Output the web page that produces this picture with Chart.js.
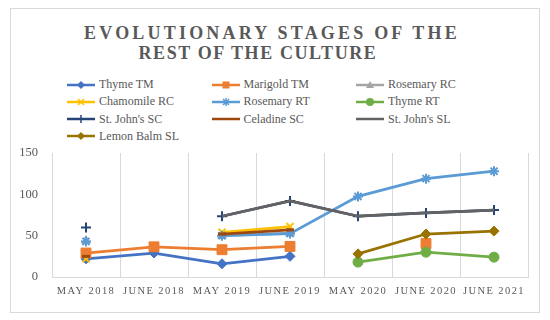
<!DOCTYPE html>
<html>
<head>
<meta charset="utf-8">
<script src="https://cdn.jsdelivr.net/npm/chart.js@4/dist/chart.umd.min.js"></script>
<style>
  html, body { margin: 0; padding: 0; background: #fff; }
  #wrap { position: relative; width: 550px; height: 320px; overflow: hidden; font-family: "Liberation Serif", "DejaVu Serif", serif; color: #595959; }
  #frame { position: absolute; left: 10px; top: 8px; width: 530px; height: 305px; border: 1px solid #d9d9d9; box-sizing: border-box; }
  .tline { position: absolute; width: 550px; text-align: center; font-size: 18px; font-weight: bold; line-height: 20px; color: #595959; white-space: nowrap; }
  #legend { position: absolute; left: 67px; top: 76px; }
  .li { position: absolute; height: 17px; display: flex; align-items: center; font-size: 12px; white-space: nowrap; }
  .li svg { margin-right: 2px; }
  canvas { position: absolute; left: 0; top: 0; }
</style>
</head>
<body>
<div id="wrap">
  <div id="frame"></div>
  <div class="tline" id="t1" style="left:-3px; top:23px; letter-spacing:3.2px;">EVOLUTIONARY STAGES OF THE</div>
  <div class="tline" id="t2" style="left:-17px; top:43px; letter-spacing:1.6px;">REST OF THE CULTURE</div>
  <div id="legend"></div>
  <canvas id="c" width="550" height="320"></canvas>
</div>
<script>
const categories = ['May 2018', 'June 2018', 'May 2019', 'June 2019', 'May 2020', 'June 2020', 'June 2021'];
const yTicks = [0, 50, 100, 150];

const thymeTM     = [22, 29, 16, 25, null, null, null];
const marigoldTM  = [29, 36.5, 33, 37, null, 40.5, null];
const rosemaryRC  = [44, null, 50, 53, null, null, null];
const chamomileRC = [22, null, 54, 61, null, null, null];
const rosemaryRT  = [43, null, 50, 52.5, 97.5, 119, 128];
const thymeRT     = [null, null, null, null, 18, 30, 24];
const stJohnsSC   = [60, null, 73.5, 92, 73.5, 77.5, 81];
const celadineSC  = [25, null, 52, 57, null, null, null];
const stJohnsSL   = [null, null, 73.5, 92, 73.5, 77.5, 81];
const lemonBalmSL = [null, null, null, null, 28, 52, 55.5];

const seriesNames = ['Thyme TM', 'Marigold TM', 'Rosemary RC', 'Chamomile RC', 'Rosemary RT', 'Thyme RT', "St. John's SC", 'Celadine SC', "St. John's SL", 'Lemon Balm SL'];
const seriesData = [thymeTM, marigoldTM, rosemaryRC, chamomileRC, rosemaryRT, thymeRT, stJohnsSC, celadineSC, stJohnsSL, lemonBalmSL];
const colors = ['#4472C4', '#ED7D31', '#A5A5A5', '#FFC000', '#5B9BD5', '#70AD47', '#264478', '#9E480E', '#636363', '#997300'];
const styles = [
  { ps: 'rectRot', r: 5, bw: 1 },
  { ps: 'rect', r: 7, bw: 1 },
  { ps: 'triangle', r: 5, bw: 1 },
  { ps: 'crossRot', r: 5, bw: 2 },
  { ps: 'star', r: 5, bw: 2 },
  { ps: 'circle', r: 5, bw: 1 },
  { ps: 'cross', r: 5, bw: 2 },
  { ps: 'line', r: 4, bw: 3 },
  { ps: false, r: 0, bw: 0 },
  { ps: 'rectRot', r: 5, bw: 1 }
];

const N = seriesNames.length;
const datasets = seriesNames.map((name, i) => ({
  label: name,
  data: seriesData[i],
  borderColor: colors[i],
  backgroundColor: colors[i],
  borderWidth: 2.75,
  pointStyle: styles[i].ps,
  pointRadius: styles[i].r,
  pointHoverRadius: styles[i].r,
  pointBorderWidth: styles[i].bw,
  pointBorderColor: colors[i],
  pointBackgroundColor: colors[i],
  spanGaps: false,
  tension: 0,
  order: N - 1 - i
}));

// HTML legend (3 columns)
const legend = document.getElementById('legend');
function markerSvg(i) {
  const c = colors[i];
  let m = '';
  const cx = 14, cy = 6;
  switch (styles[i].ps) {
    case 'rectRot': m = `<polygon points="${cx},${cy-4} ${cx+4},${cy} ${cx},${cy+4} ${cx-4},${cy}" fill="${c}"/>`; break;
    case 'rect': m = `<rect x="${cx-3.5}" y="${cy-3.5}" width="7" height="7" fill="${c}"/>`; break;
    case 'triangle': m = `<polygon points="${cx},${cy-4} ${cx+4},${cy+3} ${cx-4},${cy+3}" fill="${c}"/>`; break;
    case 'crossRot': m = `<path d="M${cx-3} ${cy-3}L${cx+3} ${cy+3}M${cx+3} ${cy-3}L${cx-3} ${cy+3}" stroke="${c}" stroke-width="1.5"/>`; break;
    case 'star': m = `<path d="M${cx-3} ${cy-3}L${cx+3} ${cy+3}M${cx+3} ${cy-3}L${cx-3} ${cy+3}M${cx} ${cy-4}L${cx} ${cy+4}" stroke="${c}" stroke-width="1.5"/>`; break;
    case 'circle': m = `<circle cx="${cx}" cy="${cy}" r="4" fill="${c}"/>`; break;
    case 'cross': m = `<path d="M${cx} ${cy-4}L${cx} ${cy+4}" stroke="${c}" stroke-width="1.5"/>`; break;
    default: m = '';
  }
  return `<svg width="30" height="12" viewBox="0 0 30 12"><line x1="0" y1="${cy}" x2="28" y2="${cy}" stroke="${c}" stroke-width="2.5"/>${m}</svg>`;
}
seriesNames.forEach((name, i) => {
  const col = i % 3, row = Math.floor(i / 3);
  const d = document.createElement('div');
  d.className = 'li';
  d.style.left = (col * 144.5) + 'px';
  d.style.top = (row * 17.3) + 'px';
  d.innerHTML = markerSvg(i) + '<span></span>';
  d.querySelector('span').textContent = name;
  legend.appendChild(d);
});

const letterSpacingPlugin = {
  id: 'xLetterSpacing',
  beforeDraw(chart) {
    const s = chart.scales.x;
    if (s && !s._lsPatched) {
      const orig = s.drawLabels;
      s.drawLabels = function (area) {
        const ctx = this.ctx;
        const prev = ctx.letterSpacing;
        ctx.letterSpacing = '1.4px';
        orig.call(this, area);
        ctx.letterSpacing = prev || '0px';
      };
      s._lsPatched = true;
    }
  }
};

new Chart(document.getElementById('c'), {
  type: 'line',
  data: { labels: categories, datasets },
  plugins: [letterSpacingPlugin],
  options: {
    responsive: false,
    animation: false,
    events: [],
    layout: { padding: { top: 153, left: 20, right: 22, bottom: 20 } },
    plugins: { legend: { display: false }, title: { display: false }, tooltip: { enabled: false } },
    scales: {
      x: {
        offset: true,
        afterFit: (s) => { s.height = 23; },
        grid: { offset: true, color: '#d9d9d9', lineWidth: 1, drawTicks: false },
        border: { display: true, color: '#d9d9d9', width: 1 },
        ticks: {
          autoSkip: false, maxRotation: 0, minRotation: 0, padding: 8,
          color: '#595959',
          font: { family: '"Liberation Serif", serif', size: 10.5 },
          callback: function (v) { return this.getLabelForValue(v).toUpperCase(); }
        }
      },
      y: {
        min: 0, max: 150,
        afterFit: (s) => { s.width = 32; },
        afterBuildTicks: (scale) => { scale.ticks = yTicks.map(v => ({ value: v })); },
        grid: { display: false, drawTicks: false },
        border: { display: false },
        ticks: { padding: 14, color: '#595959', font: { family: '"Liberation Serif", serif', size: 12.5 } }
      }
    }
  }
});
</script>
</body>
</html>
